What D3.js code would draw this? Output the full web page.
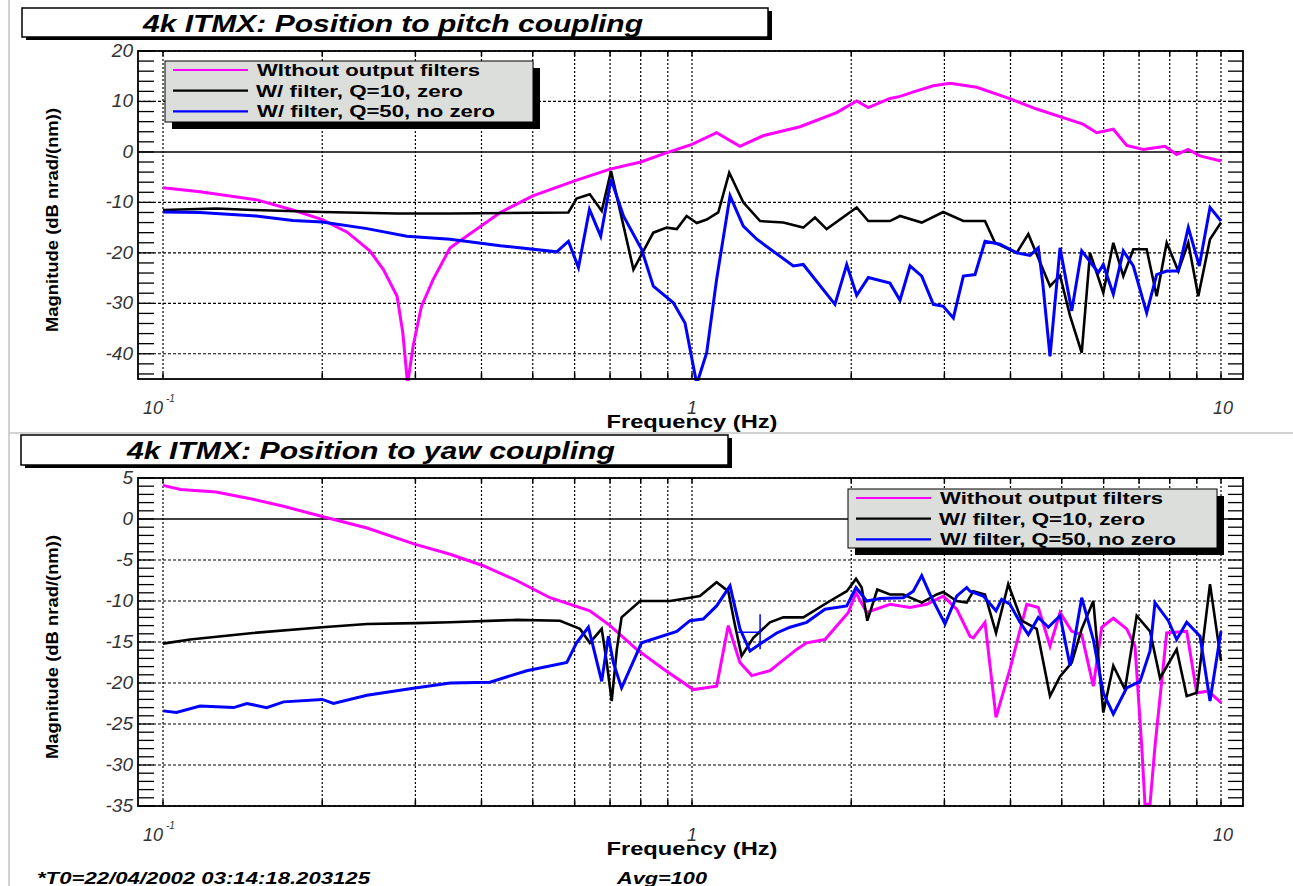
<!DOCTYPE html>
<meta charset="utf-8">
<head>
  <script src="https://d3js.org/d3.v7.min.js"></script>
  <style>
    body { margin: 0; background: #fff; }
    text { font-family: "Liberation Sans", Arial, sans-serif; }
  </style>
</head>
<body>
  <div id="chart"></div>
<script>

// ---- data (frequency in Hz, magnitude in dB nrad/(nm)) ----

// pitch panel
var pitchNoFiltF = [0.1, 0.1175, 0.1505, 0.176, 0.2, 0.223, 0.246, 0.261, 0.277, 0.284, 0.290, 0.297, 0.308, 0.324, 0.349, 0.434, 0.5, 0.6, 0.7, 0.8, 0.9, 1.0, 1.113, 1.232, 1.362, 1.6, 1.877, 2.048, 2.154, 2.367, 2.474, 2.659, 2.859, 3.074, 3.453, 4.0, 4.484, 5.028, 5.484, 5.821, 6.258, 6.633, 7.130, 7.837, 8.245, 8.673, 9.127, 10];
var pitchNoFiltDb = [-7.1, -7.9, -9.5, -11.5, -13.4, -15.9, -19.6, -23.3, -28.6, -35.8, -46, -38.5, -30.6, -25.3, -19.0, -12.0, -8.7, -5.75, -3.4, -2.0, -0.1, 1.5, 3.8, 1.1, 3.2, 5.0, 7.8, 10.1, 8.8, 10.6, 11.0, 12.1, 13.1, 13.6, 12.8, 10.5, 8.5, 6.8, 5.5, 3.8, 4.5, 1.3, 0.5, 1.1, -0.5, 0.5, -0.8, -1.8];

var pitchQ10F = [0.1, 0.126, 0.148, 0.2, 0.277, 0.349, 0.584, 0.605, 0.641, 0.675, 0.703, 0.775, 0.845, 0.896, 0.936, 0.977, 1.021, 1.066, 1.121, 1.176, 1.250, 1.345, 1.488, 1.623, 1.708, 1.797, 2.048, 2.154, 2.367, 2.473, 2.718, 2.985, 3.258, 3.580, 3.739, 4.109, 4.323, 4.751, 4.963, 5.184, 5.454, 5.655, 5.991, 6.258, 6.536, 6.827, 7.236, 7.558, 7.895, 8.304, 8.673, 9.059, 9.533, 10];
var pitchQ10Db = [-11.5, -11.2, -11.5, -11.9, -12.2, -12.2, -12.0, -9.25, -8.4, -11.7, -3.8, -23.3, -16.0, -15.0, -15.3, -12.7, -14.1, -13.4, -12.0, -4.1, -10.0, -13.7, -14.0, -15.0, -13.0, -15.3, -11.0, -13.7, -13.7, -12.7, -14.0, -11.9, -13.7, -13.7, -18.0, -20.0, -16.3, -26.6, -24.5, -32.5, -39.8, -20.0, -27.9, -18.0, -24.6, -19.3, -19.3, -28.6, -18.0, -23.6, -18.0, -28.6, -17.3, -14.0];

var pitchQ50F = [0.1, 0.1175, 0.150, 0.176, 0.2, 0.243, 0.289, 0.349, 0.434, 0.555, 0.584, 0.610, 0.640, 0.672, 0.703, 0.742, 0.803, 0.845, 0.922, 0.970, 1.021, 1.066, 1.113, 1.180, 1.250, 1.326, 1.554, 1.623, 1.863, 1.961, 2.048, 2.154, 2.367, 2.473, 2.583, 2.718, 2.859, 2.985, 3.119, 3.258, 3.428, 3.580, 3.821, 4.109, 4.355, 4.515, 4.602, 4.751, 4.963, 5.222, 5.454, 5.863, 5.991, 6.258, 6.536, 6.827, 7.236, 7.558, 7.895, 8.304, 8.673, 9.099, 9.533, 10];
var pitchQ50Db = [-11.9, -12.0, -12.7, -13.6, -13.9, -15.2, -16.7, -17.3, -18.6, -19.8, -17.7, -22.9, -11.4, -16.7, -5.4, -12.7, -19.3, -26.6, -29.9, -33.9, -46, -39.8, -25.3, -8.7, -14.7, -17.3, -22.6, -22.3, -30.2, -22.3, -28.4, -24.9, -26.0, -29.4, -22.6, -24.6, -30.2, -30.6, -32.9, -24.6, -24.3, -17.7, -18.3, -20.0, -20.5, -19.0, -25.9, -40.5, -19.0, -31.5, -19.6, -23.9, -22.3, -28.2, -19.6, -22.6, -31.9, -24.3, -23.6, -23.6, -15.0, -22.6, -11.0, -13.7];

// yaw panel
var yawNoFiltF = [0.1, 0.108, 0.126, 0.148, 0.169, 0.2, 0.243, 0.3, 0.349, 0.403, 0.466, 0.539, 0.641, 0.7, 0.786, 0.883, 1.006, 1.113, 1.171, 1.232, 1.297, 1.404, 1.577, 1.647, 1.784, 1.975, 2.042, 2.139, 2.367, 2.583, 2.778, 2.985, 3.165, 3.354, 3.403, 3.580, 3.756, 3.991, 4.293, 4.515, 4.751, 4.963, 5.222, 5.454, 5.736, 5.950, 6.258, 6.633, 6.877, 7.081, 7.183, 7.342, 7.503, 7.895, 8.613, 8.997, 9.463, 10];
var yawNoFiltDb = [4.1, 3.6, 3.3, 2.4, 1.55, 0.3, -1.1, -3.1, -4.3, -5.7, -7.5, -9.6, -11.2, -13.0, -15.9, -18.3, -20.8, -20.4, -13.0, -17.5, -19.1, -18.5, -15.9, -15.1, -14.7, -11.4, -9.0, -11.4, -10.4, -10.8, -10.4, -9.4, -11.0, -14.3, -14.5, -12.6, -24.2, -18.3, -10.4, -10.8, -15.5, -11.4, -13.7, -14.1, -20.4, -13.2, -12.1, -13.4, -15.5, -27.7, -34.8, -34.8, -27.7, -13.9, -13.7, -21.2, -21.0, -22.4];

var yawQ10F = [0.1, 0.1125, 0.148, 0.2, 0.243, 0.3, 0.349, 0.466, 0.563, 0.614, 0.641, 0.675, 0.690, 0.705, 0.721, 0.736, 0.798, 0.909, 0.991, 1.035, 1.113, 1.171, 1.206, 1.241, 1.306, 1.404, 1.488, 1.623, 1.823, 1.961, 2.042, 2.093, 2.145, 2.240, 2.367, 2.509, 2.718, 2.902, 2.985, 3.165, 3.306, 3.403, 3.580, 3.756, 3.961, 4.201, 4.484, 4.751, 4.963, 5.222, 5.454, 5.736, 5.991, 6.258, 6.584, 6.928, 7.342, 7.669, 8.245, 8.613, 8.997, 9.533, 10];
var yawQ10Db = [-15.2, -14.7, -13.9, -13.2, -12.8, -12.7, -12.6, -12.3, -12.4, -13.4, -15.1, -13.4, -17.5, -22.2, -15.9, -12.0, -10.0, -10.0, -9.6, -9.4, -7.7, -8.8, -13.0, -16.7, -14.5, -12.6, -12.0, -12.0, -10.0, -8.8, -7.3, -8.35, -12.4, -8.6, -9.2, -9.2, -10.2, -9.2, -8.9, -10.0, -10.2, -8.8, -9.2, -13.9, -7.95, -12.4, -13.4, -21.6, -19.2, -17.5, -13.4, -10.0, -23.6, -17.9, -20.8, -11.8, -13.7, -19.4, -15.9, -21.6, -21.2, -7.95, -17.3];

var yawQ50F = [0.1, 0.106, 0.1175, 0.136, 0.144, 0.157, 0.169, 0.2, 0.21, 0.243, 0.293, 0.349, 0.415, 0.487, 0.580, 0.605, 0.637, 0.675, 0.695, 0.710, 0.736, 0.803, 0.936, 0.991, 1.050, 1.113, 1.180, 1.232, 1.287, 1.355, 1.446, 1.532, 1.647, 1.784, 1.961, 2.042, 2.139, 2.267, 2.509, 2.620, 2.718, 2.818, 3.008, 3.165, 3.306, 3.354, 3.554, 3.756, 3.849, 3.991, 4.169, 4.323, 4.515, 4.716, 4.963, 5.184, 5.454, 5.736, 5.991, 6.258, 6.633, 7.029, 7.342, 7.503, 7.950, 8.245, 8.613, 9.127, 9.533, 10];
var yawQ50Db = [-23.4, -23.6, -22.8, -23.0, -22.5, -23.0, -22.3, -22.0, -22.5, -21.5, -20.7, -20.0, -19.9, -18.5, -17.5, -15.1, -13.2, -19.8, -14.3, -17.5, -20.6, -15.1, -13.7, -12.4, -12.2, -10.6, -8.15, -13.4, -16.1, -15.1, -13.9, -13.2, -12.6, -11.0, -10.6, -8.35, -10.0, -9.7, -9.6, -8.8, -6.9, -9.2, -12.8, -9.4, -8.35, -8.8, -9.4, -11.2, -9.8, -10.4, -12.6, -14.1, -12.0, -13.2, -11.8, -17.9, -9.6, -14.7, -21.2, -23.8, -20.6, -19.8, -16.1, -10.2, -12.4, -14.7, -12.6, -14.3, -22.2, -13.7];

// single marker on the yaw Q=50 trace
var yawQ50MarkF = [1.345];
var yawQ50MarkDb = [-13.8];

// axis values
var xGrid = [0.1, 0.2, 0.3, 0.4, 0.5, 0.6, 0.7, 0.8, 0.9, 1, 2, 3, 4, 5, 6, 7, 8, 9, 10];
var xTickValues = [0.1, 1, 10];
var xTickText = ["10", "1", "10"];
var xTickSup = ["-1", "", ""];
var pitchYTicks = [20, 10, 0, -10, -20, -30, -40];
var yawYTicks = [5, 0, -5, -10, -15, -20, -25, -30, -35];

var pitchLegend = ["WIthout output filters", "W/ filter, Q=10, zero", "W/ filter, Q=50, no zero"];
var yawLegend = ["Without output filters", "W/ filter, Q=10, zero", "W/ filter, Q=50, no zero"];
var seriesColors = ["#ff00ff", "#000000", "#0000ff"];

// ---- drawing ----
var width = 1293, height = 886;
var frameL = 138, frameR = 1243;

var svg = d3.select("#chart").append("svg")
  .attr("width", width)
  .attr("height", height);

// page edges
svg.append("line").attr("x1", 9).attr("x2", 9).attr("y1", 0).attr("y2", height)
  .attr("stroke", "#d2d2d2").attr("stroke-width", 2);
svg.append("line").attr("x1", 9).attr("x2", width).attr("y1", 433).attr("y2", 433)
  .attr("stroke", "#d2d2d2").attr("stroke-width", 2);

var x = d3.scaleLog().domain([0.1, 10]).range([163, 1221]);

function drawPanel(p) {
  var y = d3.scaleLinear().domain(p.yDomain).range([p.bottom, p.top]);
  var g = svg.append("g");

  // title box with drop shadow
  var tb = p.titleBox;
  g.append("rect").attr("x", tb.x + 4).attr("y", tb.y + 3).attr("width", tb.w).attr("height", tb.h).attr("fill", "#000");
  g.append("rect").attr("x", tb.x).attr("y", tb.y).attr("width", tb.w).attr("height", tb.h)
    .attr("fill", "#fff").attr("stroke", "#000").attr("stroke-width", 1.5);
  g.append("text").attr("x", tb.tx).attr("y", tb.y + 24)
    .attr("text-anchor", "middle")
    .attr("font-size", 24).attr("font-weight", "bold").attr("font-style", "italic")
    .attr("textLength", tb.tw).attr("lengthAdjust", "spacingAndGlyphs")
    .text(p.title);

  // vertical grid
  g.selectAll(null).data(xGrid).enter().append("line")
    .attr("x1", function (d) { return x(d); }).attr("x2", function (d) { return x(d); })
    .attr("y1", p.top).attr("y2", p.bottom)
    .attr("stroke", "#000").attr("stroke-width", 1.2).attr("stroke-dasharray", "2,2");
  // small x ticks top and bottom
  g.selectAll(null).data(xGrid).enter().append("line")
    .attr("x1", function (d) { return x(d); }).attr("x2", function (d) { return x(d); })
    .attr("y1", p.top).attr("y2", p.top + 5)
    .attr("stroke", "#000").attr("stroke-width", 1.5);
  g.selectAll(null).data(xGrid).enter().append("line")
    .attr("x1", function (d) { return x(d); }).attr("x2", function (d) { return x(d); })
    .attr("y1", p.bottom - 6).attr("y2", p.bottom)
    .attr("stroke", "#000").attr("stroke-width", 1.5);

  // horizontal grid at labelled values, zero line solid
  g.selectAll(null).data(p.yTicks).enter().append("line")
    .attr("x1", frameL).attr("x2", frameR)
    .attr("y1", function (d) { return y(d); }).attr("y2", function (d) { return y(d); })
    .attr("stroke", "#000")
    .attr("stroke-width", function (d) { return d === 0 ? 1.5 : 1.2; })
    .attr("stroke-dasharray", function (d) { return d === 0 ? null : "3,2"; });

  // minor y ticks on both sides
  var start = Math.ceil(p.yDomain[0] / p.yMinor) * p.yMinor;
  var minor = d3.range(start, p.yDomain[1] + 0.001, p.yMinor);
  g.selectAll(null).data(minor).enter().append("line")
    .attr("x1", frameL).attr("x2", frameL + 16)
    .attr("y1", function (d) { return y(d); }).attr("y2", function (d) { return y(d); })
    .attr("stroke", "#000").attr("stroke-width", 1.3);
  g.selectAll(null).data(minor).enter().append("line")
    .attr("x1", frameR - 15).attr("x2", frameR)
    .attr("y1", function (d) { return y(d); }).attr("y2", function (d) { return y(d); })
    .attr("stroke", "#000").attr("stroke-width", 1.3);

  // traces
  var clipId = "clip-" + p.id;
  svg.append("clipPath").attr("id", clipId).append("rect")
    .attr("x", frameL).attr("y", p.top - 1).attr("width", frameR - frameL).attr("height", p.bottom - p.top + 3);
  var line = d3.line()
    .x(function (d) { return x(d[0]); })
    .y(function (d) { return y(d[1]); });
  p.series.forEach(function (s, i) {
    g.append("path")
      .datum(d3.zip(s.f, s.db))
      .attr("clip-path", "url(#" + clipId + ")")
      .attr("fill", "none")
      .attr("stroke", seriesColors[i])
      .attr("stroke-width", i === 1 ? 2.6 : 3)
      .attr("stroke-linejoin", "miter")
      .attr("d", line);
  });

  if (p.marks) {
    var mk = d3.zip(p.marks.f, p.marks.db);
    g.selectAll(null).data(mk).enter().append("path")
      .attr("fill", "none").attr("stroke", "#0000ff").attr("stroke-width", 1.5)
      .attr("d", function (d) {
        var cx = x(d[0]), cy = y(d[1]);
        return "M" + (cx - 22) + "," + cy + "H" + cx + "M" + cx + "," + (cy - 18) + "V" + (cy + 17);
      });
  }

  // frame
  g.append("rect").attr("x", frameL).attr("y", p.top)
    .attr("width", frameR - frameL).attr("height", p.bottom - p.top)
    .attr("fill", "none").attr("stroke", "#000").attr("stroke-width", 1.8);

  // y labels
  g.selectAll(null).data(p.yTicks).enter().append("text")
    .attr("x", 133).attr("y", function (d) { return y(d) + 6; })
    .attr("text-anchor", "end")
    .attr("font-size", 19).attr("font-style", "italic").attr("fill", "#333")
    .text(function (d) { return d; });

  // x labels
  xTickValues.forEach(function (v, i) {
    var t = g.append("text")
      .attr("y", p.bottom + 35)
      .attr("font-size", 18).attr("font-style", "italic").attr("fill", "#333");
    if (xTickSup[i]) {
      t.attr("x", x(v)).attr("text-anchor", "end").text(xTickText[i]);
      g.append("text").attr("x", x(v) + 3).attr("y", p.bottom + 23)
        .attr("font-size", 10).attr("font-style", "italic").attr("fill", "#333")
        .text(xTickSup[i]);
    } else {
      t.attr("x", x(v) + (v === 10 ? 2 : 0)).attr("text-anchor", "middle").text(xTickText[i]);
    }
  });

  // axis titles
  g.append("text").attr("x", 692).attr("y", p.bottom + 49)
    .attr("text-anchor", "middle").attr("font-size", 18).attr("font-weight", "bold")
    .attr("textLength", 171).attr("lengthAdjust", "spacingAndGlyphs")
    .text("Frequency (Hz)");
  g.append("text")
    .attr("transform", "translate(58," + p.ylabelY + ")rotate(-90)")
    .attr("text-anchor", "middle").attr("font-size", 17).attr("font-weight", "bold")
    .attr("textLength", 224).attr("lengthAdjust", "spacingAndGlyphs")
    .text("Magnitude (dB nrad/(nm))");

  // legend
  var L = p.legend;
  g.append("rect").attr("x", L.x + 7).attr("y", L.y + 7).attr("width", L.w).attr("height", L.h).attr("fill", "#000");
  g.append("rect").attr("x", L.x).attr("y", L.y).attr("width", L.w).attr("height", L.h)
    .attr("fill", "#dcdedb").attr("stroke", "#000").attr("stroke-width", 1);
  p.names.forEach(function (name, i) {
    var ry = L.y + 9 + i * 20.7;
    g.append("line").attr("x1", L.x + 8).attr("x2", L.x + 83).attr("y1", ry).attr("y2", ry)
      .attr("stroke", seriesColors[i]).attr("stroke-width", 2.2);
    g.append("text").attr("x", L.x + 92 + (i === 1 ? -1 : 0)).attr("y", ry + 6)
      .attr("font-size", 16).attr("font-weight", "bold")
      .attr("textLength", L.tw[i]).attr("lengthAdjust", "spacingAndGlyphs")
      .text(name);
  });
}

drawPanel({
  id: "pitch",
  title: "4k ITMX: Position to pitch coupling",
  titleBox: { x: 22, y: 8, w: 746, h: 29, tx: 393, tw: 500 },
  top: 51, bottom: 379,
  yDomain: [-45, 20], yTicks: pitchYTicks, yMinor: 2,
  ylabelY: 220,
  series: [
    { f: pitchNoFiltF, db: pitchNoFiltDb },
    { f: pitchQ10F, db: pitchQ10Db },
    { f: pitchQ50F, db: pitchQ50Db }
  ],
  names: pitchLegend,
  legend: { x: 165, y: 61, w: 368, h: 61, tw: [223, 207, 238] }
});

drawPanel({
  id: "yaw",
  title: "4k ITMX: Position to yaw coupling",
  titleBox: { x: 21, y: 435, w: 707, h: 30, tx: 371, tw: 488 },
  top: 478, bottom: 806,
  yDomain: [-35, 5], yTicks: yawYTicks, yMinor: 1,
  ylabelY: 647,
  series: [
    { f: yawNoFiltF, db: yawNoFiltDb },
    { f: yawQ10F, db: yawQ10Db },
    { f: yawQ50F, db: yawQ50Db }
  ],
  marks: { f: yawQ50MarkF, db: yawQ50MarkDb },
  names: yawLegend,
  legend: { x: 848, y: 489, w: 369, h: 59, tw: [223, 206, 236] }
});

// footer
svg.append("text").attr("x", 37).attr("y", 884)
  .attr("font-size", 17).attr("font-weight", "bold").attr("font-style", "italic")
  .attr("textLength", 333).attr("lengthAdjust", "spacingAndGlyphs")
  .text("*T0=22/04/2002 03:14:18.203125");
svg.append("text").attr("x", 617).attr("y", 884)
  .attr("font-size", 17).attr("font-weight", "bold").attr("font-style", "italic")
  .attr("textLength", 90).attr("lengthAdjust", "spacingAndGlyphs")
  .text("Avg=100");

</script>
</body>
